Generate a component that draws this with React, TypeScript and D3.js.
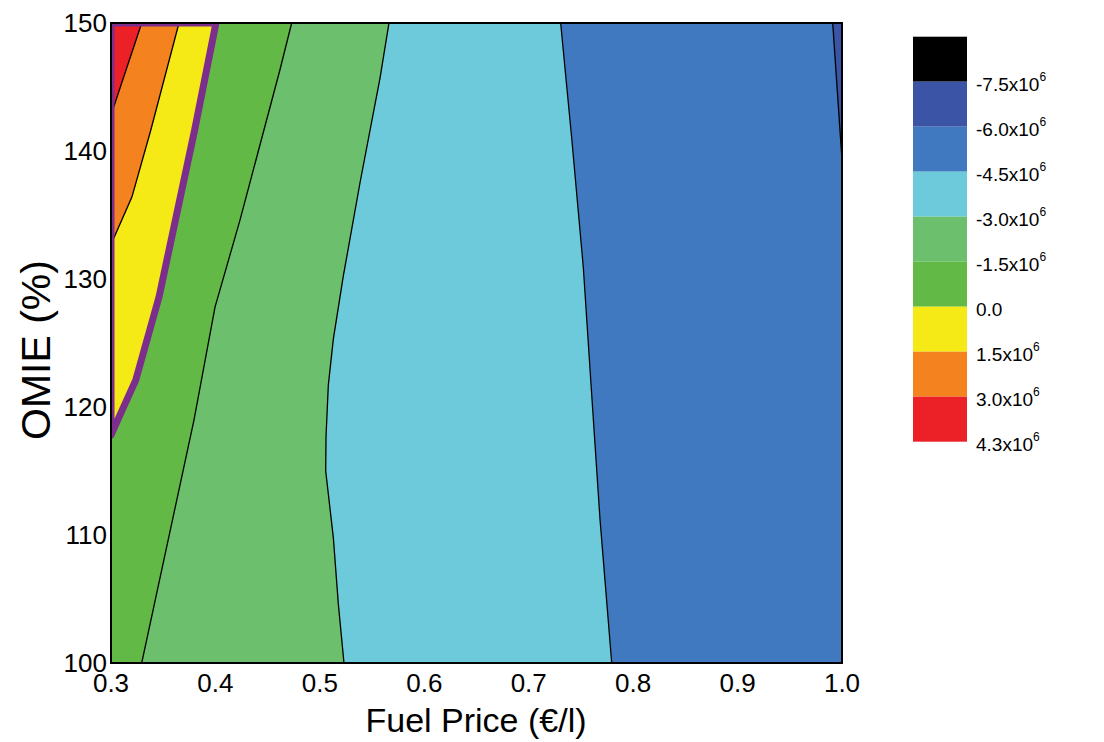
import React from "react";
import * as d3 from "d3";

type Pt = [number, number];

// Axis ticks
const fuelTicks = [0.3, 0.4, 0.5, 0.6, 0.7, 0.8, 0.9, 1.0];
const omieTicks = [100, 110, 120, 130, 140, 150];

// Contour lines: [fuel price, OMIE %], from top edge downwards
const line3_0: Pt[] = [[0.3294, 150], [0.3, 142.8]];
const line1_5: Pt[] = [[0.3651, 150], [0.338, 141.6], [0.32, 136.4], [0.3, 132.7]];
const line0_0: Pt[] = [[0.4005, 150], [0.3801, 141.64], [0.346, 128.6], [0.3237, 122.1], [0.3093, 119.5], [0.3, 117.8]];
const lineM1_5: Pt[] = [[0.473, 150], [0.4618, 146.35], [0.4235, 134.6], [0.3996, 127.8], [0.3795, 119.0], [0.3294, 100]];
const lineM3_0: Pt[] = [[0.5662, 150], [0.5576, 145.7], [0.5384, 137.5], [0.5224, 130.2], [0.5129, 125.3], [0.5081, 121.7], [0.5059, 117.7], [0.5056, 115.0], [0.5129, 109.8], [0.5177, 104.6], [0.5231, 100]];
const lineM4_5: Pt[] = [[0.7306, 150], [0.7414, 140.8], [0.7523, 130.9], [0.7603, 121.0], [0.7683, 111.2], [0.7795, 100]];
const lineM6_0: Pt[] = [[0.9911, 150], [1.0, 139.3]];

// Legend
const legendColors = ["#000000", "#3b54a5", "#4079bf", "#6ccadb", "#6cbf6c", "#63b946", "#f5ea15", "#f4821f", "#ec2027"];
const legendBase = ["-7.5x10", "-6.0x10", "-4.5x10", "-3.0x10", "-1.5x10", "0.0", "1.5x10", "3.0x10", "4.3x10"];
const legendExp = ["6", "6", "6", "6", "6", "", "6", "6", "6"];

const purple = "#7d2e8d";
const FONT = "'Liberation Sans', Arial, sans-serif";

export default function App() {
  const x = d3.scaleLinear().domain([0.3, 1.0]).range([111, 842]);
  const y = d3.scaleLinear().domain([100, 150]).range([663, 23]);
  const [x0, x1] = x.domain();
  const [y0, y1] = y.domain();

  const poly = (pts: Pt[]) => {
    const l = d3.line<Pt>().x((d) => x(d[0])).y((d) => y(d[1]));
    return l(pts) + "Z";
  };
  const path = (pts: Pt[]) => d3.line<Pt>().x((d) => x(d[0])).y((d) => y(d[1]))(pts) || "";

  // layered fills, each one covering everything to the left of its contour line
  const layers: { color: string; pts: Pt[] }[] = [
    { color: legendColors[1], pts: [[x0, y0], [x1, y0], [x1, y1], [x0, y1]] },
    { color: legendColors[2], pts: [...lineM6_0, [x1, y0], [x0, y0], [x0, y1]] },
    { color: legendColors[3], pts: [...lineM4_5, [x0, y0], [x0, y1]] },
    { color: legendColors[4], pts: [...lineM3_0, [x0, y0], [x0, y1]] },
    { color: legendColors[5], pts: [...lineM1_5, [x0, y0], [x0, y1]] },
    { color: legendColors[6], pts: [...line0_0, [x0, y1]] },
    { color: legendColors[7], pts: [...line1_5, [x0, y1]] },
    { color: legendColors[8], pts: [...line3_0, [x0, y1]] },
  ];

  const thinLines = [line3_0, line1_5, lineM1_5, lineM3_0, lineM4_5, lineM6_0];

  const legX = 913;
  const legY = 36.7;
  const legW = 54;
  const legH = 45;

  return (
    <svg width={1104} height={742} style={{ position: "fixed", left: 0, top: 0, background: "#fff" }}>
      <defs>
        <clipPath id="plotClip">
          <rect x={x(x0)} y={y(y1)} width={x(x1) - x(x0)} height={y(y0) - y(y1)} />
        </clipPath>
      </defs>
      <g clipPath="url(#plotClip)">
        {layers.map((L, i) => (
          <path key={i} d={poly(L.pts)} fill={L.color} stroke={L.color} strokeWidth={0.5} />
        ))}
        {thinLines.map((l, i) => (
          <path key={"l" + i} d={path(l)} fill="none" stroke="#000" strokeWidth={1.3} />
        ))}
        <path d={poly([...line0_0, [x0, y1]])} fill="none" stroke={purple} strokeWidth={7} strokeLinejoin="round" />
      </g>
      <rect x={x(x0)} y={y(y1)} width={x(x1) - x(x0)} height={y(y0) - y(y1)} fill="none" stroke="#000" strokeWidth={2} />

      {fuelTicks.map((t) => (
        <text key={"x" + t} x={x(t)} y={692} textAnchor="middle" fontFamily={FONT} fontSize={26} fill="#000">
          {t.toFixed(1)}
        </text>
      ))}
      {omieTicks.map((t) => (
        <text key={"y" + t} x={107} y={y(t) + 8.5} textAnchor="end" fontFamily={FONT} fontSize={26} fill="#000">
          {t}
        </text>
      ))}

      <text x={476} y={732} textAnchor="middle" fontFamily={FONT} fontSize={34} fill="#000">
        Fuel Price (€/l)
      </text>
      <text
        transform={`translate(50,350) rotate(-90)`}
        textAnchor="middle"
        fontFamily={FONT}
        fontSize={41}
        fill="#000"
      >
        OMIE (%)
      </text>

      {legendColors.map((c, i) => (
        <rect key={"lg" + i} x={legX} y={legY + i * legH} width={legW} height={legH} fill={c} />
      ))}
      {legendBase.map((b, i) => {
        const by = legY + (i + 1) * legH + 9;
        return (
          <text key={"lt" + i} x={976} y={by} fontFamily={FONT} fontSize={19} fill="#000">
            {b}
            {legendExp[i] && (
              <tspan fontSize={12} dy={-10}>
                {legendExp[i]}
              </tspan>
            )}
          </text>
        );
      })}
    </svg>
  );
}
